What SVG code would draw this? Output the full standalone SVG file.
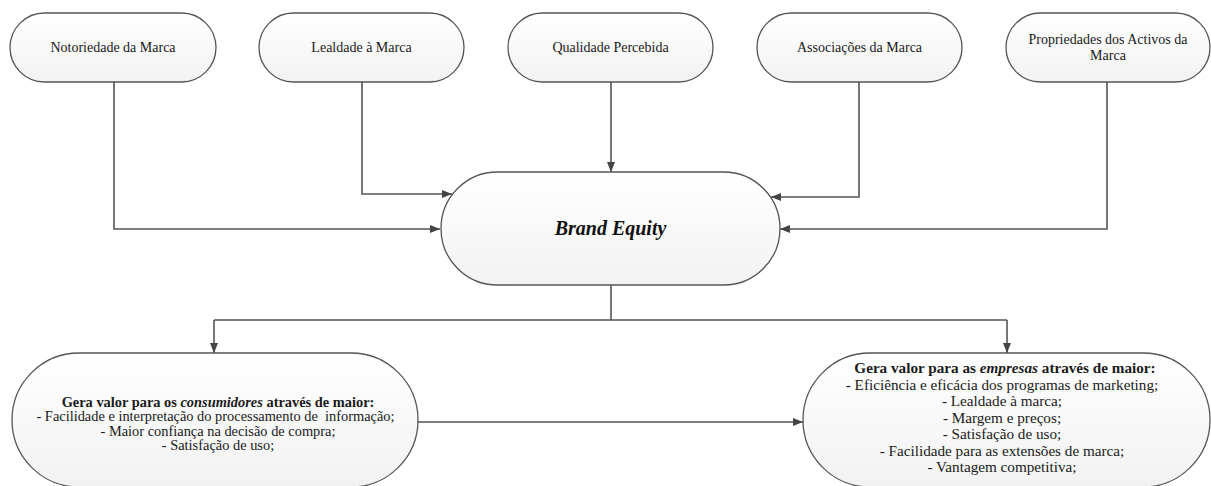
<svg xmlns="http://www.w3.org/2000/svg" width="1211" height="486" viewBox="0 0 1211 486">
  <defs>
    <linearGradient id="fill" x1="0" y1="0" x2="0" y2="1">
      <stop offset="0" stop-color="#ffffff"/>
      <stop offset="1" stop-color="#f2f2f2"/>
    </linearGradient>
    <marker id="arr" viewBox="0 0 10 8" refX="10" refY="4" markerWidth="10" markerHeight="8" markerUnits="userSpaceOnUse" orient="auto">
      <path d="M0,0 L10,4 L0,8 Z" fill="#444"/>
    </marker>
  </defs>
  <style>
    .node { fill: url(#fill); stroke: #555; stroke-width: 1.3; }
    .t { font-family: "Liberation Serif", "Times New Roman", serif; font-size: 14px; fill: #1a1a1a; text-anchor: middle; }
    .s { font-size: 14.4px; }
    .l { font-size: 15.2px; }
    .be { font-family: "Liberation Serif", "Times New Roman", serif; font-size: 20px; font-weight: bold; font-style: italic; fill: #111; text-anchor: middle; }
    .b { font-weight: bold; }
    .i { font-style: italic; }
    .c { fill: none; stroke: #555; stroke-width: 1.6; }
  </style>
  <rect width="1211" height="486" fill="#ffffff"/>

  <g id="connectors">
    <path class="c" d="M114,82 V229 H440" marker-end="url(#arr)"/>
    <path class="c" d="M362,82 V194 H452" marker-end="url(#arr)"/>
    <path class="c" d="M611,82 V172" marker-end="url(#arr)"/>
    <path class="c" d="M859,82 V197 H771" marker-end="url(#arr)"/>
    <path class="c" d="M1107,82 V229 H780" marker-end="url(#arr)"/>
    <path class="c" d="M611,285 V320"/>
    <path class="c" d="M214,320 H1007"/>
    <path class="c" d="M214,320 V353" marker-end="url(#arr)"/>
    <path class="c" d="M1007,320 V353" marker-end="url(#arr)"/>
    <path class="c" d="M418,422 H803" marker-end="url(#arr)"/>
  </g>

  <g id="n1">
    <rect class="node" x="10" y="13" width="206" height="69" rx="34.5" ry="34.5"/>
    <text class="t" x="113" y="52">Notoriedade da Marca</text>
  </g>
  <g id="n2">
    <rect class="node" x="259" y="13" width="205" height="69" rx="34.5" ry="34.5"/>
    <text class="t" x="361.5" y="52">Lealdade à Marca</text>
  </g>
  <g id="n3">
    <rect class="node" x="508" y="13" width="205" height="69" rx="34.5" ry="34.5"/>
    <text class="t" x="610.5" y="52">Qualidade Percebida</text>
  </g>
  <g id="n4">
    <rect class="node" x="757" y="13" width="205" height="69" rx="34.5" ry="34.5"/>
    <text class="t" x="859.5" y="52">Associações da Marca</text>
  </g>
  <g id="n5">
    <rect class="node" x="1006" y="13" width="204" height="69" rx="34.5" ry="34.5"/>
    <text class="t" x="1108" y="44">Propriedades dos Activos da</text>
    <text class="t" x="1108" y="60">Marca</text>
  </g>

  <g id="brand-equity">
    <rect class="node" x="441" y="172" width="339" height="113" rx="56.5" ry="56.5"/>
    <text class="be" x="610.5" y="235">Brand Equity</text>
  </g>

  <g id="consumidores">
    <rect class="node" x="12" y="353" width="406" height="134" rx="67" ry="67"/>
    <text class="t s" x="218" y="407"><tspan class="b">Gera valor para os </tspan><tspan class="b i">consumidores</tspan><tspan class="b"> através de maior:</tspan></text>
    <text class="t s" x="215.5" y="421.3" style="white-space:pre">- Facilidade e interpretação do processamento de  informação;</text>
    <text class="t s" x="218" y="435.6">- Maior confiança na decisão de compra;</text>
    <text class="t s" x="218" y="450">- Satisfação de uso;</text>
  </g>

  <g id="empresas">
    <rect class="node" x="803" y="353" width="407" height="134" rx="67" ry="67"/>
    <text class="t l" x="1005" y="373"><tspan class="b">Gera valor para as </tspan><tspan class="b i">empresas</tspan><tspan class="b"> através de maior:</tspan></text>
    <text class="t l" x="1002" y="389.5">- Eficiência e eficácia dos programas de marketing;</text>
    <text class="t l" x="1002" y="406">- Lealdade à marca;</text>
    <text class="t l" x="1002" y="422.5">- Margem e preços;</text>
    <text class="t l" x="1002" y="439">- Satisfação de uso;</text>
    <text class="t l" x="1002" y="455.5">- Facilidade para as extensões de marca;</text>
    <text class="t l" x="1002" y="472">- Vantagem competitiva;</text>
  </g>
</svg>
